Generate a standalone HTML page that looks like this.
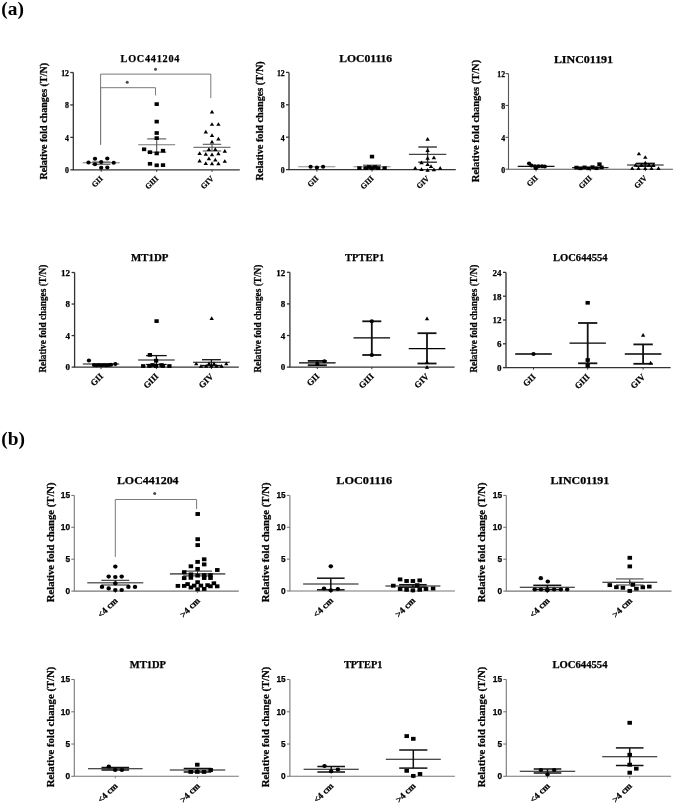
<!DOCTYPE html>
<html><head><meta charset="utf-8"><style>
html,body{margin:0;padding:0;background:#fff;width:675px;height:804px;overflow:hidden}
svg{display:block;will-change:transform}
text{stroke:#000;stroke-width:0.25px}
</style></head><body>
<svg width="675" height="804" viewBox="0 0 675 804">
<rect width="675" height="804" fill="#fff"/>
<text x="1.3" y="14.7" font-family="'Liberation Serif', serif" font-weight="bold" font-size="19.4" style="stroke-width:0">(a)</text>
<text x="1.3" y="444.8" font-family="'Liberation Serif', serif" font-weight="bold" font-size="19.4" style="stroke-width:0">(b)</text>
<path d="M73.3 72.5V169.8H239.8" fill="none" stroke="#333" stroke-width="1.3"/>
<path d="M70.3 169.8H73.3" stroke="#333" stroke-width="1.3"/>
<text x="69" y="173.2" text-anchor="end" font-family="'Liberation Serif', serif" font-weight="bold" font-size="7.8">0</text>
<path d="M70.3 137.37H73.3" stroke="#333" stroke-width="1.3"/>
<text x="69" y="140.77" text-anchor="end" font-family="'Liberation Serif', serif" font-weight="bold" font-size="7.8">4</text>
<path d="M70.3 104.93H73.3" stroke="#333" stroke-width="1.3"/>
<text x="69" y="108.33" text-anchor="end" font-family="'Liberation Serif', serif" font-weight="bold" font-size="7.8">8</text>
<path d="M70.3 72.5H73.3" stroke="#333" stroke-width="1.3"/>
<text x="69" y="75.9" text-anchor="end" font-family="'Liberation Serif', serif" font-weight="bold" font-size="7.8">12</text>
<path d="M101.2 169.8V171.8" stroke="#333" stroke-width="1"/>
<path d="M156.7 169.8V171.8" stroke="#333" stroke-width="1"/>
<path d="M212 169.8V171.8" stroke="#333" stroke-width="1"/>
<text x="120.6" y="62.1" font-family="'Liberation Serif', serif" font-weight="bold" font-size="10.2" textLength="58.8" lengthAdjust="spacing">LOC441204</text>
<text transform="translate(46.7 179.6) rotate(-90)" font-family="'Liberation Serif', serif" font-weight="bold" font-size="9.7" textLength="116.6" lengthAdjust="spacingAndGlyphs">Relative fold changes (T/N)</text>
<text transform="translate(103.4 179.1) rotate(-45)" text-anchor="end" font-family="'Liberation Serif', serif" font-weight="bold" font-size="7.8">GII</text>
<text transform="translate(158.9 179.1) rotate(-45)" text-anchor="end" font-family="'Liberation Serif', serif" font-weight="bold" font-size="7.8">GIII</text>
<text transform="translate(214.2 179.1) rotate(-45)" text-anchor="end" font-family="'Liberation Serif', serif" font-weight="bold" font-size="7.8">GIV</text>
<path d="M100.6 144.7V74.1H210.8V98.1" fill="none" stroke="#7a7a7a" stroke-width="1"/>
<circle cx="155.5" cy="69.2" r="1.5" fill="#4a4a4a"/>
<path d="M100.6 144.7V87.7H155.5V95.4" fill="none" stroke="#7a7a7a" stroke-width="1"/>
<circle cx="127.2" cy="82.3" r="1.5" fill="#4a4a4a"/>
<path d="M82.7 162.8H119.7" stroke="#777" stroke-width="1.1"/>
<path d="M101.2 162V164.3" stroke="#555" stroke-width="1.1"/>
<path d="M91.9 162H110.5" stroke="#555" stroke-width="1.1"/>
<path d="M91.9 164.3H110.5" stroke="#555" stroke-width="1.1"/>
<path d="M138.2 144.8H175.2" stroke="#777" stroke-width="1.1"/>
<path d="M156.7 138.9V152.2" stroke="#555" stroke-width="1.1"/>
<path d="M147.2 138.9H166.2" stroke="#555" stroke-width="1.1"/>
<path d="M147.2 152.2H166.2" stroke="#555" stroke-width="1.1"/>
<path d="M193.5 147.4H230.5" stroke="#777" stroke-width="1.1"/>
<path d="M212 144.3V151" stroke="#555" stroke-width="1.1"/>
<path d="M202.75 144.3H221.25" stroke="#555" stroke-width="1.1"/>
<path d="M202.75 151H221.25" stroke="#555" stroke-width="1.1"/>
<g fill="#000"><ellipse cx="95" cy="158.7" rx="2.13" ry="1.98"/><ellipse cx="107.3" cy="158.5" rx="2.13" ry="1.98"/><ellipse cx="88.5" cy="162.5" rx="2.13" ry="1.98"/><ellipse cx="101.2" cy="162" rx="2.13" ry="1.98"/><ellipse cx="113.7" cy="162.7" rx="2.13" ry="1.98"/><ellipse cx="95" cy="164.3" rx="2.13" ry="1.98"/><ellipse cx="101.2" cy="167.7" rx="2.13" ry="1.98"/><ellipse cx="107.3" cy="167.5" rx="2.13" ry="1.98"/></g>
<g fill="#000"><rect x="154.55" y="102.26" width="4.29" height="3.69"/><rect x="154.55" y="119.76" width="4.29" height="3.69"/><rect x="154.55" y="131.16" width="4.29" height="3.69"/><rect x="154.55" y="136.26" width="4.29" height="3.69"/><rect x="141.95" y="147.46" width="4.29" height="3.69"/><rect x="147.85" y="150.36" width="4.29" height="3.69"/><rect x="154.55" y="151.56" width="4.29" height="3.69"/><rect x="160.85" y="148.86" width="4.29" height="3.69"/><rect x="147.85" y="161.96" width="4.29" height="3.69"/><rect x="154.55" y="163.46" width="4.29" height="3.69"/><rect x="160.85" y="163.26" width="4.29" height="3.69"/></g>
<g fill="#000"><path d="M212 109.77L214.19 113.46L209.81 113.46Z"/><path d="M212 122.17L214.19 125.86L209.81 125.86Z"/><path d="M218.4 122.17L220.59 125.86L216.22 125.86Z"/><path d="M205.8 129.77L207.99 133.46L203.62 133.46Z"/><path d="M212 133.37L214.19 137.06L209.81 137.06Z"/><path d="M218.4 136.77L220.59 140.46L216.22 140.46Z"/><path d="M212 139.87L214.19 143.56L209.81 143.56Z"/><path d="M208.9 147.37L211.09 151.06L206.72 151.06Z"/><path d="M215.3 147.37L217.49 151.06L213.12 151.06Z"/><path d="M224.8 148.97L226.99 152.66L222.62 152.66Z"/><path d="M199.6 151.27L201.78 154.96L197.41 154.96Z"/><path d="M205.8 152.07L207.99 155.76L203.62 155.76Z"/><path d="M212 152.57L214.19 156.26L209.81 156.26Z"/><path d="M218.4 151.57L220.59 155.26L216.22 155.26Z"/><path d="M208.9 156.47L211.09 160.16L206.72 160.16Z"/><path d="M215.3 157.77L217.49 161.46L213.12 161.46Z"/><path d="M199.6 158.87L201.78 162.56L197.41 162.56Z"/><path d="M224.8 159.17L226.99 162.86L222.62 162.86Z"/><path d="M205.8 161.37L207.99 165.06L203.62 165.06Z"/><path d="M212 161.57L214.19 165.26L209.81 165.26Z"/><path d="M218.4 161.57L220.59 165.26L216.22 165.26Z"/></g>
<path d="M289 72.4V169.6H455.8" fill="none" stroke="#333" stroke-width="1.3"/>
<path d="M286 169.6H289" stroke="#333" stroke-width="1.3"/>
<text x="284.7" y="173" text-anchor="end" font-family="'Liberation Serif', serif" font-weight="bold" font-size="7.8">0</text>
<path d="M286 137.2H289" stroke="#333" stroke-width="1.3"/>
<text x="284.7" y="140.6" text-anchor="end" font-family="'Liberation Serif', serif" font-weight="bold" font-size="7.8">4</text>
<path d="M286 104.8H289" stroke="#333" stroke-width="1.3"/>
<text x="284.7" y="108.2" text-anchor="end" font-family="'Liberation Serif', serif" font-weight="bold" font-size="7.8">8</text>
<path d="M286 72.4H289" stroke="#333" stroke-width="1.3"/>
<text x="284.7" y="75.8" text-anchor="end" font-family="'Liberation Serif', serif" font-weight="bold" font-size="7.8">12</text>
<path d="M316.8 169.6V171.6" stroke="#333" stroke-width="1"/>
<path d="M372 169.6V171.6" stroke="#333" stroke-width="1"/>
<path d="M427.6 169.6V171.6" stroke="#333" stroke-width="1"/>
<text x="339.2" y="62" font-family="'Liberation Serif', serif" font-weight="bold" font-size="10.2" textLength="53" lengthAdjust="spacingAndGlyphs">LOC01116</text>
<text transform="translate(263 180.5) rotate(-90)" font-family="'Liberation Serif', serif" font-weight="bold" font-size="10" textLength="119.3" lengthAdjust="spacingAndGlyphs">Relative fold changes (T/N)</text>
<text transform="translate(319 178.9) rotate(-45)" text-anchor="end" font-family="'Liberation Serif', serif" font-weight="bold" font-size="7.8">GII</text>
<text transform="translate(374.2 178.9) rotate(-45)" text-anchor="end" font-family="'Liberation Serif', serif" font-weight="bold" font-size="7.8">GIII</text>
<text transform="translate(429.8 178.9) rotate(-45)" text-anchor="end" font-family="'Liberation Serif', serif" font-weight="bold" font-size="7.8">GIV</text>
<path d="M298.3 166.7H335.3" stroke="#888" stroke-width="1.1"/>
<path d="M353.5 166.7H390.5" stroke="#888" stroke-width="1.1"/>
<path d="M372 165.2V168" stroke="#444" stroke-width="1.1"/>
<path d="M363 165.2H381" stroke="#444" stroke-width="1.1"/>
<path d="M363 168H381" stroke="#444" stroke-width="1.1"/>
<path d="M408.9 154.4H446.3" stroke="#444" stroke-width="1.1"/>
<path d="M427.6 147V162.2" stroke="#333" stroke-width="1.4"/>
<path d="M418.3 147H436.9" stroke="#333" stroke-width="1.4"/>
<path d="M418.3 162.2H436.9" stroke="#333" stroke-width="1.4"/>
<g fill="#000"><ellipse cx="310.6" cy="166.7" rx="2.13" ry="1.98"/><ellipse cx="316.9" cy="167.6" rx="2.13" ry="1.98"/><ellipse cx="323.1" cy="166.7" rx="2.13" ry="1.98"/></g>
<g fill="#000"><rect x="369.85" y="154.76" width="4.29" height="3.69"/><rect x="357.25" y="166.26" width="4.29" height="3.69"/><rect x="363.65" y="166.26" width="4.29" height="3.69"/><rect x="369.85" y="166.26" width="4.29" height="3.69"/><rect x="375.85" y="166.26" width="4.29" height="3.69"/><rect x="382.45" y="166.26" width="4.29" height="3.69"/><rect x="366.85" y="165.16" width="4.29" height="3.69"/><rect x="372.85" y="165.16" width="4.29" height="3.69"/></g>
<g fill="#000"><path d="M427.6 136.97L429.79 140.66L425.42 140.66Z"/><path d="M427.6 148.37L429.79 152.06L425.42 152.06Z"/><path d="M427.6 155.97L429.79 159.66L425.42 159.66Z"/><path d="M433.9 155.57L436.08 159.26L431.71 159.26Z"/><path d="M421.5 160.57L423.69 164.26L419.31 164.26Z"/><path d="M427.6 162.37L429.79 166.06L425.42 166.06Z"/><path d="M431 164.27L433.19 167.96L428.81 167.96Z"/><path d="M415.2 166.07L417.38 169.76L413.01 169.76Z"/><path d="M421.5 167.27L423.69 170.96L419.31 170.96Z"/><path d="M427.6 167.97L429.79 171.66L425.42 171.66Z"/><path d="M433.9 167.57L436.08 171.26L431.71 171.26Z"/><path d="M440.2 166.07L442.38 169.76L438.01 169.76Z"/></g>
<path d="M508.5 73.6V169.2H672.9" fill="none" stroke="#555" stroke-width="1.1"/>
<path d="M505.5 169.2H508.5" stroke="#555" stroke-width="1.1"/>
<text x="505.1" y="172.6" text-anchor="end" font-family="'Liberation Serif', serif" font-weight="bold" font-size="7.8">0</text>
<path d="M505.5 137.33H508.5" stroke="#555" stroke-width="1.1"/>
<text x="505.1" y="140.73" text-anchor="end" font-family="'Liberation Serif', serif" font-weight="bold" font-size="7.8">4</text>
<path d="M505.5 105.47H508.5" stroke="#555" stroke-width="1.1"/>
<text x="505.1" y="108.87" text-anchor="end" font-family="'Liberation Serif', serif" font-weight="bold" font-size="7.8">8</text>
<path d="M505.5 73.6H508.5" stroke="#555" stroke-width="1.1"/>
<text x="505.1" y="77" text-anchor="end" font-family="'Liberation Serif', serif" font-weight="bold" font-size="7.8">12</text>
<path d="M536.1 169.2V171.2" stroke="#555" stroke-width="1"/>
<path d="M590.3 169.2V171.2" stroke="#555" stroke-width="1"/>
<path d="M645.4 169.2V171.2" stroke="#555" stroke-width="1"/>
<text x="553.9" y="62.6" font-family="'Liberation Serif', serif" font-weight="bold" font-size="10.7" textLength="59.2" lengthAdjust="spacingAndGlyphs">LINC01191</text>
<text transform="translate(479.4 182.2) rotate(-90)" font-family="'Liberation Serif', serif" font-weight="bold" font-size="10.4" textLength="122.4" lengthAdjust="spacingAndGlyphs">Relative fold changes (T/N)</text>
<text transform="translate(538.3 178.5) rotate(-45)" text-anchor="end" font-family="'Liberation Serif', serif" font-weight="bold" font-size="7.8">GII</text>
<text transform="translate(592.5 178.5) rotate(-45)" text-anchor="end" font-family="'Liberation Serif', serif" font-weight="bold" font-size="7.8">GIII</text>
<text transform="translate(647.6 178.5) rotate(-45)" text-anchor="end" font-family="'Liberation Serif', serif" font-weight="bold" font-size="7.8">GIV</text>
<path d="M517.7 166.3H554.5" stroke="#111" stroke-width="1.3"/>
<path d="M572.1 167.6H608.5" stroke="#222" stroke-width="1.1"/>
<path d="M627.1 165H663.7" stroke="#111" stroke-width="1.1"/>
<path d="M645.4 163.4V166.2" stroke="#111" stroke-width="1.5"/>
<path d="M635.9 163.4H654.9" stroke="#111" stroke-width="1.5"/>
<path d="M635.9 166.2H654.9" stroke="#111" stroke-width="1.5"/>
<g fill="#000"><ellipse cx="529.1" cy="163.6" rx="2.13" ry="1.98"/><ellipse cx="531.5" cy="165.6" rx="2.13" ry="1.98"/><ellipse cx="535" cy="166.2" rx="2.13" ry="1.98"/><ellipse cx="538.5" cy="166.2" rx="2.13" ry="1.98"/><ellipse cx="542" cy="166.2" rx="2.13" ry="1.98"/><ellipse cx="544.8" cy="166.4" rx="2.13" ry="1.98"/><ellipse cx="535.8" cy="168.2" rx="2.13" ry="1.98"/></g>
<g fill="#000"><rect x="574.35" y="165.76" width="4.29" height="3.69"/><rect x="578.35" y="166.46" width="4.29" height="3.69"/><rect x="582.35" y="165.56" width="4.29" height="3.69"/><rect x="586.35" y="166.46" width="4.29" height="3.69"/><rect x="590.35" y="165.36" width="4.29" height="3.69"/><rect x="594.35" y="166.36" width="4.29" height="3.69"/><rect x="597.35" y="162.36" width="4.29" height="3.69"/><rect x="599.35" y="165.56" width="4.29" height="3.69"/></g>
<g fill="#000"><path d="M638.9 151.67L641.08 155.36L636.72 155.36Z"/><path d="M645.3 155.17L647.48 158.86L643.12 158.86Z"/><path d="M635.5 162.97L637.68 166.66L633.32 166.66Z"/><path d="M641.5 162.77L643.68 166.46L639.32 166.46Z"/><path d="M645.3 160.77L647.48 164.46L643.12 164.46Z"/><path d="M649 162.77L651.18 166.46L646.82 166.46Z"/><path d="M653.5 162.97L655.68 166.66L651.32 166.66Z"/><path d="M632.2 166.27L634.38 169.96L630.02 169.96Z"/><path d="M638.5 166.27L640.68 169.96L636.32 169.96Z"/><path d="M645.2 166.27L647.38 169.96L643.02 169.96Z"/><path d="M651.5 166.27L653.68 169.96L649.32 169.96Z"/><path d="M658.5 166.27L660.68 169.96L656.32 169.96Z"/></g>
<path d="M74.6 272.5V367.1H238.8" fill="none" stroke="#333" stroke-width="1.3"/>
<path d="M71.6 367.1H74.6" stroke="#333" stroke-width="1.3"/>
<text x="70" y="370.4" text-anchor="end" font-family="'Liberation Serif', serif" font-weight="bold" font-size="9">0</text>
<path d="M71.6 335.57H74.6" stroke="#333" stroke-width="1.3"/>
<text x="70" y="338.87" text-anchor="end" font-family="'Liberation Serif', serif" font-weight="bold" font-size="9">4</text>
<path d="M71.6 304.03H74.6" stroke="#333" stroke-width="1.3"/>
<text x="70" y="307.33" text-anchor="end" font-family="'Liberation Serif', serif" font-weight="bold" font-size="9">8</text>
<path d="M71.6 272.5H74.6" stroke="#333" stroke-width="1.3"/>
<text x="70" y="275.8" text-anchor="end" font-family="'Liberation Serif', serif" font-weight="bold" font-size="9">12</text>
<path d="M101 367.1V369.1" stroke="#333" stroke-width="1"/>
<path d="M156.4 367.1V369.1" stroke="#333" stroke-width="1"/>
<path d="M211.4 367.1V369.1" stroke="#333" stroke-width="1"/>
<text x="131" y="260.8" font-family="'Liberation Serif', serif" font-weight="bold" font-size="10" textLength="37.4" lengthAdjust="spacingAndGlyphs">MT1DP</text>
<text transform="translate(46.1 372.6) rotate(-90)" font-family="'Liberation Serif', serif" font-weight="bold" font-size="10.4" textLength="107.9" lengthAdjust="spacingAndGlyphs">Relative fold changes (T/N)</text>
<text transform="translate(103.6 376.9) rotate(-45)" text-anchor="end" font-family="'Liberation Serif', serif" font-weight="bold" font-size="8.8">GII</text>
<text transform="translate(159 376.9) rotate(-45)" text-anchor="end" font-family="'Liberation Serif', serif" font-weight="bold" font-size="8.8">GIII</text>
<text transform="translate(214 376.9) rotate(-45)" text-anchor="end" font-family="'Liberation Serif', serif" font-weight="bold" font-size="8.8">GIV</text>
<path d="M82.8 364H119.2" stroke="#111" stroke-width="1.1"/>
<path d="M138.1 360H174.7" stroke="#111" stroke-width="1.1"/>
<path d="M156.4 355.6V364.5" stroke="#111" stroke-width="1.3"/>
<path d="M146.1 355.6H166.7" stroke="#111" stroke-width="1.3"/>
<path d="M146.1 364.5H166.7" stroke="#111" stroke-width="1.3"/>
<path d="M193 362.3H229.8" stroke="#111" stroke-width="1.1"/>
<path d="M211.4 359.7V365.5" stroke="#111" stroke-width="1.3"/>
<path d="M202 359.7H220.8" stroke="#111" stroke-width="1.3"/>
<path d="M202 365.5H220.8" stroke="#111" stroke-width="1.3"/>
<g fill="#000"><ellipse cx="88.9" cy="360.6" rx="2.13" ry="1.98"/><ellipse cx="94" cy="365" rx="2.13" ry="1.98"/><ellipse cx="96.5" cy="365.3" rx="2.13" ry="1.98"/><ellipse cx="99" cy="365" rx="2.13" ry="1.98"/><ellipse cx="101.5" cy="365.3" rx="2.13" ry="1.98"/><ellipse cx="104" cy="365" rx="2.13" ry="1.98"/><ellipse cx="106.5" cy="365.3" rx="2.13" ry="1.98"/><ellipse cx="109" cy="365" rx="2.13" ry="1.98"/><ellipse cx="111" cy="364.8" rx="2.13" ry="1.98"/><ellipse cx="115.3" cy="364" rx="2.13" ry="1.98"/></g>
<g fill="#000"><rect x="154.45" y="319.26" width="4.29" height="3.69"/><rect x="147.75" y="353.06" width="4.29" height="3.69"/><rect x="153.95" y="358.86" width="4.29" height="3.69"/><rect x="141.05" y="364.16" width="4.29" height="3.69"/><rect x="147.25" y="364.16" width="4.29" height="3.69"/><rect x="153.95" y="364.16" width="4.29" height="3.69"/><rect x="160.65" y="364.16" width="4.29" height="3.69"/><rect x="167.25" y="364.16" width="4.29" height="3.69"/><rect x="150.45" y="363.16" width="4.29" height="3.69"/><rect x="159.35" y="363.16" width="4.29" height="3.69"/></g>
<g fill="#000"><path d="M211.7 316.37L213.88 320.06L209.51 320.06Z"/><path d="M196.3 361.67L198.49 365.36L194.12 365.36Z"/><path d="M226.3 361.67L228.49 365.36L224.12 365.36Z"/><path d="M201 363.97L203.19 367.66L198.81 367.66Z"/><path d="M206.2 363.97L208.38 367.66L204.01 367.66Z"/><path d="M211.4 363.97L213.59 367.66L209.22 367.66Z"/><path d="M216.6 363.97L218.78 367.66L214.41 367.66Z"/><path d="M221.6 363.97L223.78 367.66L219.41 367.66Z"/><path d="M209 361.47L211.19 365.16L206.81 365.16Z"/><path d="M214 361.47L216.19 365.16L211.81 365.16Z"/></g>
<path d="M289.9 272.3V367.1H454.6" fill="none" stroke="#333" stroke-width="1.3"/>
<path d="M286.9 367.1H289.9" stroke="#333" stroke-width="1.3"/>
<text x="285.3" y="370.4" text-anchor="end" font-family="'Liberation Serif', serif" font-weight="bold" font-size="9">0</text>
<path d="M286.9 335.5H289.9" stroke="#333" stroke-width="1.3"/>
<text x="285.3" y="338.8" text-anchor="end" font-family="'Liberation Serif', serif" font-weight="bold" font-size="9">4</text>
<path d="M286.9 303.9H289.9" stroke="#333" stroke-width="1.3"/>
<text x="285.3" y="307.2" text-anchor="end" font-family="'Liberation Serif', serif" font-weight="bold" font-size="9">8</text>
<path d="M286.9 272.3H289.9" stroke="#333" stroke-width="1.3"/>
<text x="285.3" y="275.6" text-anchor="end" font-family="'Liberation Serif', serif" font-weight="bold" font-size="9">12</text>
<path d="M317.3 367.1V369.1" stroke="#333" stroke-width="1"/>
<path d="M371.8 367.1V369.1" stroke="#333" stroke-width="1"/>
<path d="M427 367.1V369.1" stroke="#333" stroke-width="1"/>
<text x="345.1" y="260.8" font-family="'Liberation Serif', serif" font-weight="bold" font-size="10" textLength="39.1" lengthAdjust="spacingAndGlyphs">TPTEP1</text>
<text transform="translate(261.2 372.6) rotate(-90)" font-family="'Liberation Serif', serif" font-weight="bold" font-size="10.4" textLength="107.9" lengthAdjust="spacingAndGlyphs">Relative fold changes (T/N)</text>
<text transform="translate(319.9 376.9) rotate(-45)" text-anchor="end" font-family="'Liberation Serif', serif" font-weight="bold" font-size="8.8">GII</text>
<text transform="translate(374.4 376.9) rotate(-45)" text-anchor="end" font-family="'Liberation Serif', serif" font-weight="bold" font-size="8.8">GIII</text>
<text transform="translate(429.6 376.9) rotate(-45)" text-anchor="end" font-family="'Liberation Serif', serif" font-weight="bold" font-size="8.8">GIV</text>
<path d="M299 362.8H335.6" stroke="#000" stroke-width="1.3"/>
<path d="M317.3 360.9V365.2" stroke="#111" stroke-width="1.8"/>
<path d="M307.8 360.9H326.8" stroke="#111" stroke-width="1.8"/>
<path d="M307.8 365.2H326.8" stroke="#111" stroke-width="1.8"/>
<path d="M353.5 337.9H390.1" stroke="#000" stroke-width="1.3"/>
<path d="M371.8 321.3V355" stroke="#111" stroke-width="1.8"/>
<path d="M362.3 321.3H381.3" stroke="#111" stroke-width="1.8"/>
<path d="M362.3 355H381.3" stroke="#111" stroke-width="1.8"/>
<path d="M408.7 348.6H445.3" stroke="#000" stroke-width="1.3"/>
<path d="M427 333.2V363.5" stroke="#111" stroke-width="1.8"/>
<path d="M417.5 333.2H436.5" stroke="#111" stroke-width="1.8"/>
<path d="M417.5 363.5H436.5" stroke="#111" stroke-width="1.8"/>
<g fill="#000"><ellipse cx="324.4" cy="361.2" rx="2.13" ry="1.98"/><ellipse cx="317.3" cy="364" rx="2.13" ry="1.98"/></g>
<g fill="#000"><ellipse cx="371.8" cy="321.3" rx="2.13" ry="1.98"/><ellipse cx="371.8" cy="355" rx="2.13" ry="1.98"/></g>
<g fill="#000"><path d="M427 316.47L429.19 320.16L424.81 320.16Z"/><path d="M427 360.07L429.19 363.76L424.81 363.76Z"/><path d="M427 364.97L429.19 368.66L424.81 368.66Z"/></g>
<path d="M506 272.4V367.6H670.6" fill="none" stroke="#333" stroke-width="1.3"/>
<path d="M503 367.6H506" stroke="#333" stroke-width="1.3"/>
<text x="501.4" y="370.9" text-anchor="end" font-family="'Liberation Serif', serif" font-weight="bold" font-size="9">0</text>
<path d="M503 343.8H506" stroke="#333" stroke-width="1.3"/>
<text x="501.4" y="347.1" text-anchor="end" font-family="'Liberation Serif', serif" font-weight="bold" font-size="9">6</text>
<path d="M503 320H506" stroke="#333" stroke-width="1.3"/>
<text x="501.4" y="323.3" text-anchor="end" font-family="'Liberation Serif', serif" font-weight="bold" font-size="9">12</text>
<path d="M503 296.2H506" stroke="#333" stroke-width="1.3"/>
<text x="501.4" y="299.5" text-anchor="end" font-family="'Liberation Serif', serif" font-weight="bold" font-size="9">18</text>
<path d="M503 272.4H506" stroke="#333" stroke-width="1.3"/>
<text x="501.4" y="275.7" text-anchor="end" font-family="'Liberation Serif', serif" font-weight="bold" font-size="9">24</text>
<path d="M533.5 367.6V369.6" stroke="#333" stroke-width="1"/>
<path d="M587.7 367.6V369.6" stroke="#333" stroke-width="1"/>
<path d="M643.1 367.6V369.6" stroke="#333" stroke-width="1"/>
<text x="553" y="260.8" font-family="'Liberation Serif', serif" font-weight="bold" font-size="10" textLength="54.5" lengthAdjust="spacingAndGlyphs">LOC644554</text>
<text transform="translate(477.1 372.6) rotate(-90)" font-family="'Liberation Serif', serif" font-weight="bold" font-size="10.4" textLength="107.9" lengthAdjust="spacingAndGlyphs">Relative fold changes (T/N)</text>
<text transform="translate(536.1 377.4) rotate(-45)" text-anchor="end" font-family="'Liberation Serif', serif" font-weight="bold" font-size="8.8">GII</text>
<text transform="translate(590.3 377.4) rotate(-45)" text-anchor="end" font-family="'Liberation Serif', serif" font-weight="bold" font-size="8.8">GIII</text>
<text transform="translate(645.7 377.4) rotate(-45)" text-anchor="end" font-family="'Liberation Serif', serif" font-weight="bold" font-size="8.8">GIV</text>
<path d="M515.2 354H551.8" stroke="#000" stroke-width="1.3"/>
<path d="M569.5 343.1H605.9" stroke="#000" stroke-width="1.3"/>
<path d="M587.7 323V363.3" stroke="#111" stroke-width="1.8"/>
<path d="M578.1 323H597.3" stroke="#111" stroke-width="1.8"/>
<path d="M578.1 363.3H597.3" stroke="#111" stroke-width="1.8"/>
<path d="M624.8 354H661.4" stroke="#000" stroke-width="1.3"/>
<path d="M643.1 344.4V363.8" stroke="#111" stroke-width="1.8"/>
<path d="M633.4 344.4H652.8" stroke="#111" stroke-width="1.8"/>
<path d="M633.4 363.8H652.8" stroke="#111" stroke-width="1.8"/>
<g fill="#000"><ellipse cx="533.5" cy="354" rx="2.13" ry="1.98"/></g>
<g fill="#000"><rect x="585.55" y="300.96" width="4.29" height="3.69"/><rect x="585.55" y="358.16" width="4.29" height="3.69"/><rect x="585.55" y="363.96" width="4.29" height="3.69"/></g>
<g fill="#000"><path d="M643.1 333.07L645.28 336.76L640.92 336.76Z"/><path d="M650.6 360.77L652.78 364.46L648.42 364.46Z"/></g>
<path d="M74.3 495.4V591.1H238.8" fill="none" stroke="#777" stroke-width="1.1"/>
<path d="M71.3 591.1H74.3" stroke="#777" stroke-width="1.1"/>
<text x="70.1" y="594" text-anchor="end" font-family="'Liberation Sans', sans-serif" font-weight="bold" font-size="8.3">0</text>
<path d="M71.3 559.2H74.3" stroke="#777" stroke-width="1.1"/>
<text x="70.1" y="562.1" text-anchor="end" font-family="'Liberation Sans', sans-serif" font-weight="bold" font-size="8.3">5</text>
<path d="M71.3 527.3H74.3" stroke="#777" stroke-width="1.1"/>
<text x="70.1" y="530.2" text-anchor="end" font-family="'Liberation Sans', sans-serif" font-weight="bold" font-size="8.3">10</text>
<path d="M71.3 495.4H74.3" stroke="#777" stroke-width="1.1"/>
<text x="70.1" y="498.3" text-anchor="end" font-family="'Liberation Sans', sans-serif" font-weight="bold" font-size="8.3">15</text>
<path d="M115.3 591.1V593.1" stroke="#777" stroke-width="1"/>
<path d="M197.6 591.1V593.1" stroke="#777" stroke-width="1"/>
<text x="116.9" y="484" font-family="'Liberation Serif', serif" font-weight="bold" font-size="10.7" textLength="61.7" lengthAdjust="spacingAndGlyphs">LOC441204</text>
<text transform="translate(54.2 602.2) rotate(-90)" font-family="'Liberation Serif', serif" font-weight="bold" font-size="11.3" textLength="119.8" lengthAdjust="spacingAndGlyphs">Relative fold change (T/N)</text>
<text transform="translate(118.1 601.3) rotate(-45)" text-anchor="end" font-family="'Liberation Serif', serif" font-weight="bold" font-size="9.2">&lt;4 cm</text>
<text transform="translate(200.4 601.3) rotate(-45)" text-anchor="end" font-family="'Liberation Serif', serif" font-weight="bold" font-size="9.2">&gt;4 cm</text>
<path d="M115.3 556.9V499.5H196.6V509" fill="none" stroke="#7a7a7a" stroke-width="1"/>
<circle cx="154.7" cy="493.4" r="1.5" fill="#4a4a4a"/>
<path d="M87.3 582.8H143.3" stroke="#666" stroke-width="1.6"/>
<path d="M115.3 580.3V585" stroke="#222" stroke-width="1"/>
<path d="M101.3 580.3H129.3" stroke="#222" stroke-width="1"/>
<path d="M101.3 585H129.3" stroke="#222" stroke-width="1"/>
<path d="M169.9 573.9H225.3" stroke="#666" stroke-width="1.6"/>
<path d="M197.6 571.1V575.9" stroke="#222" stroke-width="1"/>
<path d="M183.2 571.1H212" stroke="#222" stroke-width="1"/>
<path d="M183.2 575.9H212" stroke="#222" stroke-width="1"/>
<g fill="#000"><ellipse cx="115.3" cy="566.6" rx="2.24" ry="2.08"/><ellipse cx="108.7" cy="576.6" rx="2.24" ry="2.08"/><ellipse cx="115.3" cy="577" rx="2.24" ry="2.08"/><ellipse cx="121.7" cy="576.6" rx="2.24" ry="2.08"/><ellipse cx="115.3" cy="583.4" rx="2.24" ry="2.08"/><ellipse cx="102" cy="586.9" rx="2.24" ry="2.08"/><ellipse cx="108.7" cy="588.4" rx="2.24" ry="2.08"/><ellipse cx="115.3" cy="590" rx="2.24" ry="2.08"/><ellipse cx="121.7" cy="590" rx="2.24" ry="2.08"/><ellipse cx="128.4" cy="586.9" rx="2.24" ry="2.08"/><ellipse cx="135" cy="586.9" rx="2.24" ry="2.08"/></g>
<g fill="#000"><rect x="195.44" y="512.06" width="4.52" height="3.88"/><rect x="195.44" y="537.26" width="4.52" height="3.88"/><rect x="195.44" y="543.16" width="4.52" height="3.88"/><rect x="201.94" y="557.36" width="4.52" height="3.88"/><rect x="195.34" y="559.96" width="4.52" height="3.88"/><rect x="201.94" y="562.46" width="4.52" height="3.88"/><rect x="188.64" y="564.36" width="4.52" height="3.88"/><rect x="195.34" y="566.96" width="4.52" height="3.88"/><rect x="215.04" y="568.06" width="4.52" height="3.88"/><rect x="181.94" y="570.26" width="4.52" height="3.88"/><rect x="188.64" y="572.46" width="4.52" height="3.88"/><rect x="188.64" y="575.86" width="4.52" height="3.88"/><rect x="181.94" y="576.16" width="4.52" height="3.88"/><rect x="195.34" y="573.66" width="4.52" height="3.88"/><rect x="201.94" y="573.26" width="4.52" height="3.88"/><rect x="201.94" y="576.06" width="4.52" height="3.88"/><rect x="208.24" y="573.26" width="4.52" height="3.88"/><rect x="208.24" y="576.06" width="4.52" height="3.88"/><rect x="175.64" y="583.96" width="4.52" height="3.88"/><rect x="181.94" y="583.96" width="4.52" height="3.88"/><rect x="185.34" y="582.16" width="4.52" height="3.88"/><rect x="188.64" y="585.46" width="4.52" height="3.88"/><rect x="191.94" y="583.66" width="4.52" height="3.88"/><rect x="195.34" y="580.26" width="4.52" height="3.88"/><rect x="195.34" y="587.36" width="4.52" height="3.88"/><rect x="198.64" y="583.66" width="4.52" height="3.88"/><rect x="201.94" y="586.96" width="4.52" height="3.88"/><rect x="205.34" y="583.26" width="4.52" height="3.88"/><rect x="208.24" y="584.36" width="4.52" height="3.88"/><rect x="211.64" y="581.36" width="4.52" height="3.88"/><rect x="214.94" y="584.36" width="4.52" height="3.88"/></g>
<path d="M289.9 495.4V591H454.9" fill="none" stroke="#777" stroke-width="1.1"/>
<path d="M286.9 591H289.9" stroke="#777" stroke-width="1.1"/>
<text x="285.7" y="593.9" text-anchor="end" font-family="'Liberation Sans', sans-serif" font-weight="bold" font-size="8.3">0</text>
<path d="M286.9 559.13H289.9" stroke="#777" stroke-width="1.1"/>
<text x="285.7" y="562.03" text-anchor="end" font-family="'Liberation Sans', sans-serif" font-weight="bold" font-size="8.3">5</text>
<path d="M286.9 527.27H289.9" stroke="#777" stroke-width="1.1"/>
<text x="285.7" y="530.17" text-anchor="end" font-family="'Liberation Sans', sans-serif" font-weight="bold" font-size="8.3">10</text>
<path d="M286.9 495.4H289.9" stroke="#777" stroke-width="1.1"/>
<text x="285.7" y="498.3" text-anchor="end" font-family="'Liberation Sans', sans-serif" font-weight="bold" font-size="8.3">15</text>
<path d="M330.8 591V593" stroke="#777" stroke-width="1"/>
<path d="M412.9 591V593" stroke="#777" stroke-width="1"/>
<text x="336.2" y="483.8" font-family="'Liberation Serif', serif" font-weight="bold" font-size="10.5" textLength="56" lengthAdjust="spacingAndGlyphs">LOC01116</text>
<text transform="translate(269.2 602.2) rotate(-90)" font-family="'Liberation Serif', serif" font-weight="bold" font-size="11.3" textLength="119.8" lengthAdjust="spacingAndGlyphs">Relative fold change (T/N)</text>
<text transform="translate(333.6 601.2) rotate(-45)" text-anchor="end" font-family="'Liberation Serif', serif" font-weight="bold" font-size="9.2">&lt;4 cm</text>
<text transform="translate(415.7 601.2) rotate(-45)" text-anchor="end" font-family="'Liberation Serif', serif" font-weight="bold" font-size="9.2">&gt;4 cm</text>
<path d="M303.1 584H358.5" stroke="#111" stroke-width="1.1"/>
<path d="M330.8 578.2V589.8" stroke="#111" stroke-width="1.5"/>
<path d="M317 578.2H344.6" stroke="#111" stroke-width="1.5"/>
<path d="M317 589.8H344.6" stroke="#111" stroke-width="1.5"/>
<path d="M385.4 586H440.4" stroke="#111" stroke-width="1.1"/>
<path d="M412.9 584.7V587.2" stroke="#111" stroke-width="1.5"/>
<path d="M399.1 584.7H426.7" stroke="#111" stroke-width="1.5"/>
<path d="M399.1 587.2H426.7" stroke="#111" stroke-width="1.5"/>
<g fill="#000"><ellipse cx="330.8" cy="566.3" rx="2.24" ry="2.08"/><ellipse cx="324" cy="588.5" rx="2.24" ry="2.08"/><ellipse cx="330.8" cy="590.3" rx="2.24" ry="2.08"/><ellipse cx="337.9" cy="589" rx="2.24" ry="2.08"/></g>
<g fill="#000"><rect x="397.84" y="577.46" width="4.52" height="3.88"/><rect x="404.34" y="579.06" width="4.52" height="3.88"/><rect x="410.64" y="579.06" width="4.52" height="3.88"/><rect x="417.44" y="578.46" width="4.52" height="3.88"/><rect x="391.04" y="583.76" width="4.52" height="3.88"/><rect x="397.84" y="587.06" width="4.52" height="3.88"/><rect x="404.34" y="587.86" width="4.52" height="3.88"/><rect x="410.64" y="588.36" width="4.52" height="3.88"/><rect x="417.44" y="587.86" width="4.52" height="3.88"/><rect x="423.74" y="587.06" width="4.52" height="3.88"/><rect x="430.84" y="586.56" width="4.52" height="3.88"/><rect x="414.94" y="583.26" width="4.52" height="3.88"/></g>
<path d="M506.3 495.4V591.1H671.5" fill="none" stroke="#777" stroke-width="1.1"/>
<path d="M503.3 591.1H506.3" stroke="#777" stroke-width="1.1"/>
<text x="502.1" y="594" text-anchor="end" font-family="'Liberation Sans', sans-serif" font-weight="bold" font-size="8.3">0</text>
<path d="M503.3 559.2H506.3" stroke="#777" stroke-width="1.1"/>
<text x="502.1" y="562.1" text-anchor="end" font-family="'Liberation Sans', sans-serif" font-weight="bold" font-size="8.3">5</text>
<path d="M503.3 527.3H506.3" stroke="#777" stroke-width="1.1"/>
<text x="502.1" y="530.2" text-anchor="end" font-family="'Liberation Sans', sans-serif" font-weight="bold" font-size="8.3">10</text>
<path d="M503.3 495.4H506.3" stroke="#777" stroke-width="1.1"/>
<text x="502.1" y="498.3" text-anchor="end" font-family="'Liberation Sans', sans-serif" font-weight="bold" font-size="8.3">15</text>
<path d="M547.3 591.1V593.1" stroke="#777" stroke-width="1"/>
<path d="M629.8 591.1V593.1" stroke="#777" stroke-width="1"/>
<text x="550.4" y="483.8" font-family="'Liberation Serif', serif" font-weight="bold" font-size="10.5" textLength="58.9" lengthAdjust="spacingAndGlyphs">LINC01191</text>
<text transform="translate(485.3 602.2) rotate(-90)" font-family="'Liberation Serif', serif" font-weight="bold" font-size="11.3" textLength="119.8" lengthAdjust="spacingAndGlyphs">Relative fold change (T/N)</text>
<text transform="translate(550.1 601.3) rotate(-45)" text-anchor="end" font-family="'Liberation Serif', serif" font-weight="bold" font-size="9.2">&lt;4 cm</text>
<text transform="translate(632.6 601.3) rotate(-45)" text-anchor="end" font-family="'Liberation Serif', serif" font-weight="bold" font-size="9.2">&gt;4 cm</text>
<path d="M519.8 587.3H574.8" stroke="#111" stroke-width="1.1"/>
<path d="M547.3 585.3V589.5" stroke="#111" stroke-width="1.5"/>
<path d="M533.3 585.3H561.3" stroke="#111" stroke-width="1.5"/>
<path d="M533.3 589.5H561.3" stroke="#111" stroke-width="1.5"/>
<path d="M602.4 582.3H657.2" stroke="#111" stroke-width="1.1"/>
<path d="M629.8 578.9V585" stroke="#222" stroke-width="1.2"/>
<path d="M616 578.9H643.6" stroke="#777" stroke-width="1.5"/>
<path d="M616 585H643.6" stroke="#777" stroke-width="1.5"/>
<g fill="#000"><ellipse cx="540.8" cy="578.2" rx="2.24" ry="2.08"/><ellipse cx="547.8" cy="581.5" rx="2.24" ry="2.08"/><ellipse cx="534.7" cy="589.5" rx="2.24" ry="2.08"/><ellipse cx="541" cy="589.5" rx="2.24" ry="2.08"/><ellipse cx="547.3" cy="589.5" rx="2.24" ry="2.08"/><ellipse cx="554.1" cy="589.5" rx="2.24" ry="2.08"/><ellipse cx="560.9" cy="589.5" rx="2.24" ry="2.08"/><ellipse cx="567.2" cy="589.5" rx="2.24" ry="2.08"/><ellipse cx="547.3" cy="590.3" rx="2.24" ry="2.08"/></g>
<g fill="#000"><rect x="627.54" y="555.86" width="4.52" height="3.88"/><rect x="627.54" y="564.46" width="4.52" height="3.88"/><rect x="607.54" y="583.16" width="4.52" height="3.88"/><rect x="614.14" y="585.26" width="4.52" height="3.88"/><rect x="620.64" y="585.86" width="4.52" height="3.88"/><rect x="627.54" y="588.96" width="4.52" height="3.88"/><rect x="630.64" y="582.86" width="4.52" height="3.88"/><rect x="634.14" y="586.76" width="4.52" height="3.88"/><rect x="640.54" y="585.36" width="4.52" height="3.88"/><rect x="647.04" y="584.66" width="4.52" height="3.88"/></g>
<path d="M74.3 679.5V776.3H238.8" fill="none" stroke="#777" stroke-width="1.1"/>
<path d="M71.3 776.3H74.3" stroke="#777" stroke-width="1.1"/>
<text x="70.1" y="779.2" text-anchor="end" font-family="'Liberation Sans', sans-serif" font-weight="bold" font-size="8.3">0</text>
<path d="M71.3 744.03H74.3" stroke="#777" stroke-width="1.1"/>
<text x="70.1" y="746.93" text-anchor="end" font-family="'Liberation Sans', sans-serif" font-weight="bold" font-size="8.3">5</text>
<path d="M71.3 711.77H74.3" stroke="#777" stroke-width="1.1"/>
<text x="70.1" y="714.67" text-anchor="end" font-family="'Liberation Sans', sans-serif" font-weight="bold" font-size="8.3">10</text>
<path d="M71.3 679.5H74.3" stroke="#777" stroke-width="1.1"/>
<text x="70.1" y="682.4" text-anchor="end" font-family="'Liberation Sans', sans-serif" font-weight="bold" font-size="8.3">15</text>
<path d="M115.3 776.3V778.3" stroke="#777" stroke-width="1"/>
<path d="M197.5 776.3V778.3" stroke="#777" stroke-width="1"/>
<text x="129.8" y="667.8" font-family="'Liberation Serif', serif" font-weight="bold" font-size="9.6" textLength="36.2" lengthAdjust="spacingAndGlyphs">MT1DP</text>
<text transform="translate(54.2 787.2) rotate(-90)" font-family="'Liberation Serif', serif" font-weight="bold" font-size="11.3" textLength="120.6" lengthAdjust="spacingAndGlyphs">Relative fold change (T/N)</text>
<text transform="translate(118.1 786.5) rotate(-45)" text-anchor="end" font-family="'Liberation Serif', serif" font-weight="bold" font-size="9.2">&lt;4 cm</text>
<text transform="translate(200.3 786.5) rotate(-45)" text-anchor="end" font-family="'Liberation Serif', serif" font-weight="bold" font-size="9.2">&gt;4 cm</text>
<path d="M88 768.7H142.6" stroke="#111" stroke-width="1.1"/>
<path d="M115.3 767.5V770" stroke="#111" stroke-width="1.5"/>
<path d="M101.5 767.5H129.1" stroke="#111" stroke-width="1.5"/>
<path d="M101.5 770H129.1" stroke="#111" stroke-width="1.5"/>
<path d="M169.8 770H225.2" stroke="#111" stroke-width="1.1"/>
<path d="M197.5 768.5V772" stroke="#111" stroke-width="1.5"/>
<path d="M183.7 768.5H211.3" stroke="#111" stroke-width="1.5"/>
<path d="M183.7 772H211.3" stroke="#111" stroke-width="1.5"/>
<g fill="#000"><ellipse cx="108.8" cy="766.5" rx="2.24" ry="2.08"/><ellipse cx="115.2" cy="770" rx="2.24" ry="2.08"/><ellipse cx="121.9" cy="770" rx="2.24" ry="2.08"/></g>
<g fill="#000"><rect x="195.04" y="762.76" width="4.52" height="3.88"/><rect x="188.44" y="769.96" width="4.52" height="3.88"/><rect x="195.04" y="769.96" width="4.52" height="3.88"/><rect x="201.74" y="769.96" width="4.52" height="3.88"/><rect x="208.44" y="768.06" width="4.52" height="3.88"/></g>
<path d="M289.9 679.5V776.3H454.9" fill="none" stroke="#777" stroke-width="1.1"/>
<path d="M286.9 776.3H289.9" stroke="#777" stroke-width="1.1"/>
<text x="285.7" y="779.2" text-anchor="end" font-family="'Liberation Sans', sans-serif" font-weight="bold" font-size="8.3">0</text>
<path d="M286.9 744.03H289.9" stroke="#777" stroke-width="1.1"/>
<text x="285.7" y="746.93" text-anchor="end" font-family="'Liberation Sans', sans-serif" font-weight="bold" font-size="8.3">5</text>
<path d="M286.9 711.77H289.9" stroke="#777" stroke-width="1.1"/>
<text x="285.7" y="714.67" text-anchor="end" font-family="'Liberation Sans', sans-serif" font-weight="bold" font-size="8.3">10</text>
<path d="M286.9 679.5H289.9" stroke="#777" stroke-width="1.1"/>
<text x="285.7" y="682.4" text-anchor="end" font-family="'Liberation Sans', sans-serif" font-weight="bold" font-size="8.3">15</text>
<path d="M331.2 776.3V778.3" stroke="#777" stroke-width="1"/>
<path d="M413.3 776.3V778.3" stroke="#777" stroke-width="1"/>
<text x="343.9" y="667.8" font-family="'Liberation Serif', serif" font-weight="bold" font-size="9.6" textLength="38.5" lengthAdjust="spacingAndGlyphs">TPTEP1</text>
<text transform="translate(269.4 787.2) rotate(-90)" font-family="'Liberation Serif', serif" font-weight="bold" font-size="11.3" textLength="120.6" lengthAdjust="spacingAndGlyphs">Relative fold change (T/N)</text>
<text transform="translate(334 786.5) rotate(-45)" text-anchor="end" font-family="'Liberation Serif', serif" font-weight="bold" font-size="9.2">&lt;4 cm</text>
<text transform="translate(416.1 786.5) rotate(-45)" text-anchor="end" font-family="'Liberation Serif', serif" font-weight="bold" font-size="9.2">&gt;4 cm</text>
<path d="M303.6 769.2H358.8" stroke="#111" stroke-width="1.1"/>
<path d="M331.2 766.5V772" stroke="#111" stroke-width="1.5"/>
<path d="M317.4 766.5H345" stroke="#111" stroke-width="1.5"/>
<path d="M317.4 772H345" stroke="#111" stroke-width="1.5"/>
<path d="M385.8 759.3H440.8" stroke="#111" stroke-width="1.1"/>
<path d="M413.3 750V768.1" stroke="#111" stroke-width="1.5"/>
<path d="M399.2 750H427.4" stroke="#111" stroke-width="1.5"/>
<path d="M399.2 768.1H427.4" stroke="#111" stroke-width="1.5"/>
<g fill="#000"><ellipse cx="324.5" cy="766" rx="2.24" ry="2.08"/><ellipse cx="331.2" cy="771.3" rx="2.24" ry="2.08"/><ellipse cx="337.9" cy="769.5" rx="2.24" ry="2.08"/></g>
<g fill="#000"><rect x="404.44" y="734.16" width="4.52" height="3.88"/><rect x="411.04" y="736.86" width="4.52" height="3.88"/><rect x="404.44" y="768.86" width="4.52" height="3.88"/><rect x="411.04" y="773.96" width="4.52" height="3.88"/><rect x="417.74" y="772.06" width="4.52" height="3.88"/></g>
<path d="M506.3 679.5V776.3H671.1" fill="none" stroke="#777" stroke-width="1.1"/>
<path d="M503.3 776.3H506.3" stroke="#777" stroke-width="1.1"/>
<text x="502.1" y="779.2" text-anchor="end" font-family="'Liberation Sans', sans-serif" font-weight="bold" font-size="8.3">0</text>
<path d="M503.3 744.03H506.3" stroke="#777" stroke-width="1.1"/>
<text x="502.1" y="746.93" text-anchor="end" font-family="'Liberation Sans', sans-serif" font-weight="bold" font-size="8.3">5</text>
<path d="M503.3 711.77H506.3" stroke="#777" stroke-width="1.1"/>
<text x="502.1" y="714.67" text-anchor="end" font-family="'Liberation Sans', sans-serif" font-weight="bold" font-size="8.3">10</text>
<path d="M503.3 679.5H506.3" stroke="#777" stroke-width="1.1"/>
<text x="502.1" y="682.4" text-anchor="end" font-family="'Liberation Sans', sans-serif" font-weight="bold" font-size="8.3">15</text>
<path d="M547.5 776.3V778.3" stroke="#777" stroke-width="1"/>
<path d="M629.7 776.3V778.3" stroke="#777" stroke-width="1"/>
<text x="552.4" y="667.8" font-family="'Liberation Serif', serif" font-weight="bold" font-size="9.6" textLength="55.1" lengthAdjust="spacingAndGlyphs">LOC644554</text>
<text transform="translate(485.3 787.2) rotate(-90)" font-family="'Liberation Serif', serif" font-weight="bold" font-size="11.3" textLength="120.6" lengthAdjust="spacingAndGlyphs">Relative fold change (T/N)</text>
<text transform="translate(550.3 786.5) rotate(-45)" text-anchor="end" font-family="'Liberation Serif', serif" font-weight="bold" font-size="9.2">&lt;4 cm</text>
<text transform="translate(632.5 786.5) rotate(-45)" text-anchor="end" font-family="'Liberation Serif', serif" font-weight="bold" font-size="9.2">&gt;4 cm</text>
<path d="M519.8 771.3H575.2" stroke="#111" stroke-width="1.1"/>
<path d="M547.5 769V773" stroke="#111" stroke-width="1.5"/>
<path d="M533.7 769H561.3" stroke="#111" stroke-width="1.5"/>
<path d="M533.7 773H561.3" stroke="#111" stroke-width="1.5"/>
<path d="M602.2 756.7H657.2" stroke="#111" stroke-width="1.1"/>
<path d="M629.7 747.9V765.5" stroke="#111" stroke-width="1.5"/>
<path d="M615.9 747.9H643.5" stroke="#111" stroke-width="1.5"/>
<path d="M615.9 765.5H643.5" stroke="#111" stroke-width="1.5"/>
<g fill="#000"><ellipse cx="540.9" cy="770" rx="2.24" ry="2.08"/><ellipse cx="554.2" cy="770" rx="2.24" ry="2.08"/><ellipse cx="547.5" cy="774.5" rx="2.24" ry="2.08"/></g>
<g fill="#000"><rect x="627.44" y="720.86" width="4.52" height="3.88"/><rect x="627.44" y="752.86" width="4.52" height="3.88"/><rect x="627.44" y="762.76" width="4.52" height="3.88"/><rect x="634.04" y="766.76" width="4.52" height="3.88"/><rect x="627.44" y="770.76" width="4.52" height="3.88"/></g>
</svg>
</body></html>
